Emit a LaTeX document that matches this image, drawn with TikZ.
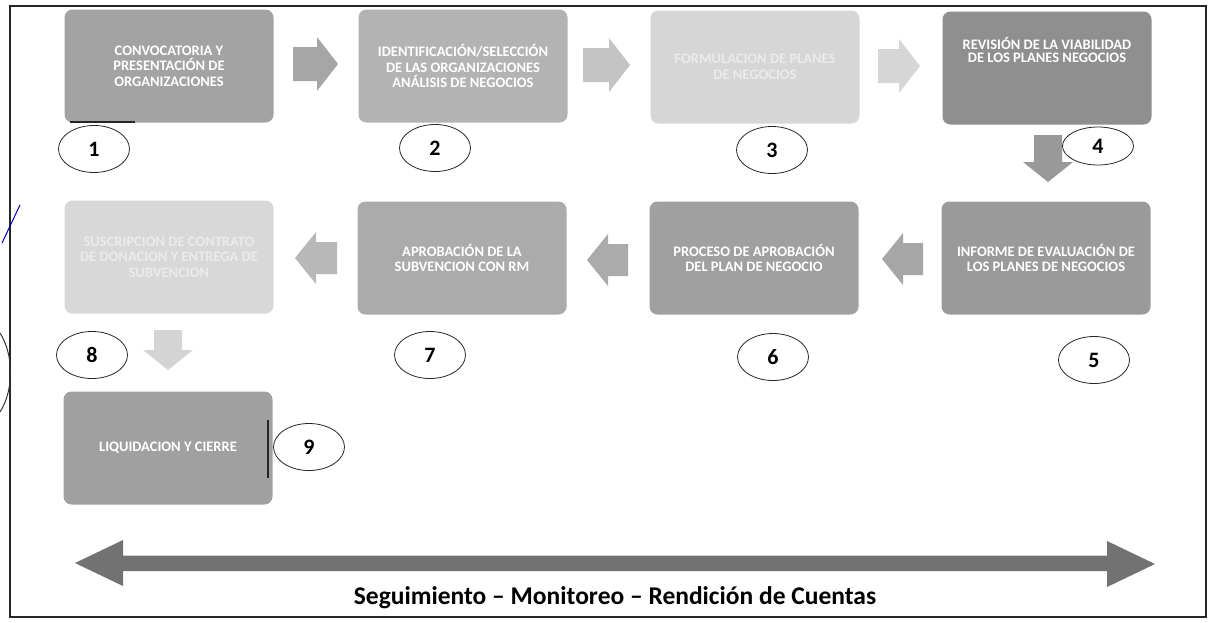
\documentclass[tikz,border=0pt]{standalone}
\usepackage{fontspec}
\setmainfont{Carlito}
\usetikzlibrary{shapes.geometric}
\definecolor{cA}{HTML}{A3A3A3}
\definecolor{cB}{HTML}{B3B3B3}
\definecolor{cC}{HTML}{D6D6D6}
\definecolor{cD}{HTML}{8F8F8F}
\definecolor{cE}{HTML}{9A9A9A}
\definecolor{cF}{HTML}{A0A0A0}
\definecolor{cG}{HTML}{ABABAB}
\definecolor{cH}{HTML}{D8D8D8}
\definecolor{cI}{HTML}{A0A0A0}
\definecolor{bigA}{HTML}{727272}
\newcommand{\hArrR}[4]{\fill[#4] (#1,#3-17) -- (#2-21,#3-17) -- (#2-21,#3-27) -- (#2,#3) -- (#2-21,#3+27) -- (#2-21,#3+17) -- (#1,#3+17) -- cycle;}
\newcommand{\hArrL}[4]{\fill[#4] (#2,#3-16) -- (#1+21,#3-16) -- (#1+21,#3-26) -- (#1,#3) -- (#1+21,#3+26) -- (#1+21,#3+16) -- (#2,#3+16) -- cycle;}
\newcommand{\vArrD}[4]{\fill[#4] (#1-14,#2) -- (#1+14,#2) -- (#1+14,#3-20) -- (#1+25,#3-20) -- (#1,#3) -- (#1-25,#3-20) -- (#1-14,#3-20) -- cycle;}
\tikzset{
  box/.style={rounded corners=8pt, minimum width=209pt, minimum height=113pt, inner sep=0pt,
    align=center, text=white, font=\fontsize{14.5}{15.5}\selectfont\bfseries},
  boxtxt/.style={inner sep=0pt, align=center, text=white, font=\fontsize{14.5}{13}\selectfont\bfseries},
  num/.style={draw=black!85, line width=0.8pt, ellipse, minimum width=71pt, minimum height=47pt,
    inner sep=0pt, font=\fontsize{22}{22}\selectfont\bfseries},
}
\begin{document}
\begin{tikzpicture}[x=1pt,y=-1pt]
\useasboundingbox (0,0) rectangle (1215,622);
\fill[white] (0,0) rectangle (1215,622);
\draw[line width=1.8pt, black!85] (10,6) rectangle (1206,617);
% row 1
\node[box, fill=cA] (b1) at (169,66) {CONVOCATORIA Y\\PRESENTACIÓN DE\\ORGANIZACIONES};
\node[box, fill=cB] (b2) at (463,66) {IDENTIFICACIÓN/SELECCIÓN\\DE LAS ORGANIZACIONES\\ANÁLISIS DE NEGOCIOS};
\node[box, fill=cC, text=white!92!black] (b3) at (755,67) {FORMULACION DE PLANES\\DE NEGOCIOS};
\node[box, fill=cD] (b4) at (1047,68) {};
\node[boxtxt] (t4) at (1047,50) {REVISIÓN DE LA VIABILIDAD\\DE LOS PLANES NEGOCIOS};
% row 2
\node[box, fill=cE] (b5) at (1046,258) {INFORME DE EVALUACIÓN DE\\LOS PLANES DE NEGOCIOS};
\node[box, fill=cF] (b6) at (754,258) {PROCESO DE APROBACIÓN\\DEL PLAN DE NEGOCIO};
\node[box, fill=cG] (b7) at (462,258) {APROBACIÓN DE LA\\SUBVENCION CON RM};
\node[box, fill=cH, text=white!92!black] (b8) at (169,257) {SUSCRIPCION DE CONTRATO\\DE DONACION Y ENTREGA DE\\SUBVENCION};
% row 3
\node[box, fill=cI] (b9) at (168,448) {LIQUIDACION Y CIERRE};
% block arrows
\hArrR{293}{338}{64}{black!35}
\hArrR{583}{630}{65}{black!23}
\hArrR{878}{920}{66}{black!16}
\vArrD{1048}{135}{182}{black!40}
\hArrL{882}{923}{259}{black!35}
\hArrL{587}{628}{260}{black!33}
\hArrL{295}{337}{258}{black!28}
\vArrD{168}{330}{370}{black!17}
% numbers
\node[num] (n1) at (94,149) {1};
\node[num] (n2) at (435,148) {2};
\node[num] (n3) at (772,150) {3};
\node[num, minimum height=38pt] (n4) at (1098,146) {4};
\node[num] (n5) at (1094,360) {5};
\node[num] (n6) at (773,357) {6};
\node[num] (n7) at (430,355) {7};
\node[num] (n8) at (92,355) {8};
\node[num] (n9) at (309,447) {9};
% scan marks
\draw[line width=2pt, black!85] (70,122) -- (135,122);
\draw[line width=2.5pt, black!85] (268,420) -- (268,478);
\draw[blue!70!black, line width=1pt] (20,205) -- (2,243);
\draw[black!80, line width=1pt] (0,333) .. controls (14,355) and (14,390) .. (0,412);
% big double arrow
\fill[bigA] (75,563) -- (123,540) -- (123,555.5) -- (1107,555.5) -- (1107,541) -- (1155,564) -- (1107,587) -- (1107,571) -- (123,571) -- (123,586) -- cycle;
\node[anchor=base, inner sep=0pt, font=\fontsize{25.5}{26}\selectfont\bfseries] (lbl) at (615,604) {Seguimiento – Monitoreo – Rendición de Cuentas};
\end{tikzpicture}
\end{document}
